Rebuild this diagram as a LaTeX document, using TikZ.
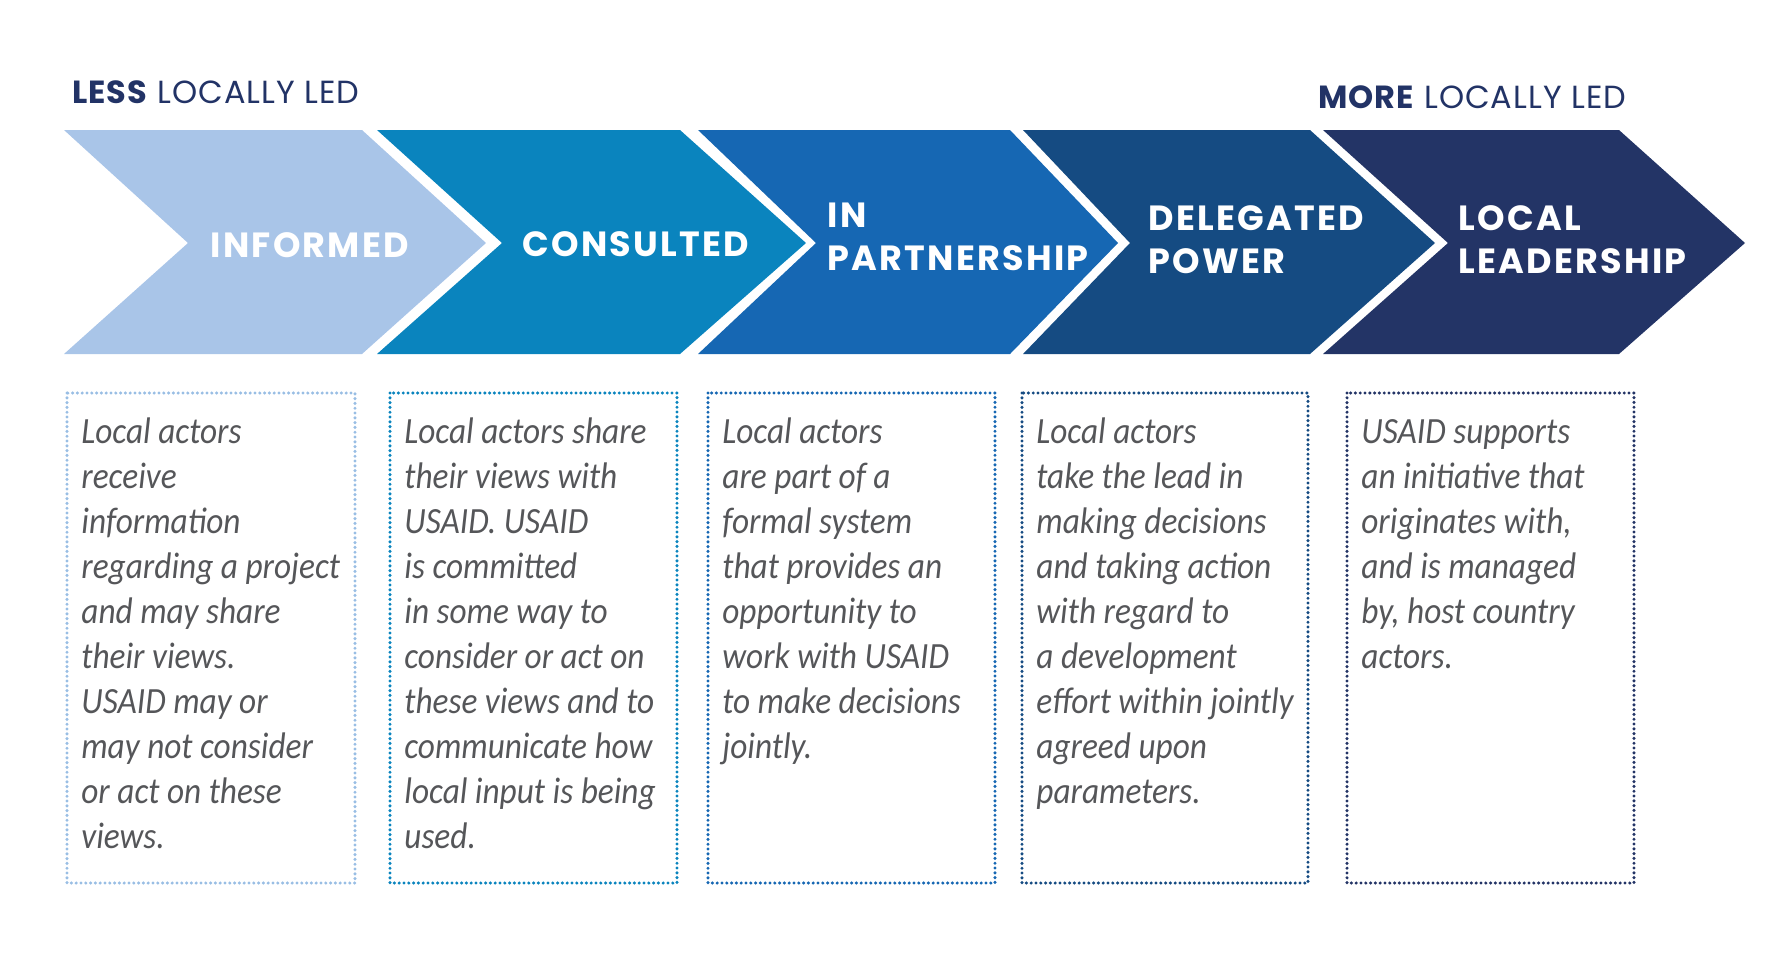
\documentclass[tikz,border=0pt]{standalone}
\usepackage{fontspec}
\usepackage{tikz}
\newfontfamily\bodyfont{Carlito}[FakeStretch=0.9]
\newfontfamily\headfont{Poppins}[LetterSpace=6.5]
\newfontfamily\labelfont{Poppins}[LetterSpace=3]
\definecolor{chevA}{HTML}{A9C5E8}
\definecolor{chevB}{HTML}{0A84BE}
\definecolor{chevC}{HTML}{1667B3}
\definecolor{chevD}{HTML}{154B82}
\definecolor{chevE}{HTML}{233466}
\definecolor{navy}{HTML}{223366}
\definecolor{bodygrey}{HTML}{555659}
\def\chevron[#1](#2:#3:#4:#5){\fill[#1] (#2,130) -- (#4,130) -- (#5,243) -- (#4,354) -- (#2,354) -- (#3,243) -- cycle;}
\tikzset{
  endlabel/.style={anchor=base west, inner sep=0pt, text=navy, font=\labelfont\fontsize{16pt}{19pt}\selectfont},
  stage/.style={anchor=base west, inner sep=0pt, align=left, text=white, font=\headfont\bfseries\fontsize{17.5pt}{21.5pt}\selectfont},
  dotbox/.style={draw=#1, line width=1.7pt, line cap=round, dash pattern=on 0pt off 2.4pt},
  desc/.style={anchor=base west, inner sep=0pt, align=left, text=bodygrey, font=\bodyfont\itshape\fontsize{18.5pt}{22.5pt}\selectfont}
}
\begin{document}
\begin{tikzpicture}[x=0.5pt, y=-0.5pt]
			%%%%% START %%%%%
			\useasboundingbox (0, 0) rectangle (1778, 971);
			
			\node[endlabel] (less) at (72, 103) {\textbf{LESS} LOCALLY LED};
			\node[endlabel] (more) at (1318, 108) {\textbf{MORE} LOCALLY LED};
			
			\chevron[fill=chevA](64:188:362:486);
			\chevron[fill=chevB](377:502:680:806);
			\chevron[fill=chevC](698:816:1010:1118);
			\chevron[fill=chevD](1023:1130:1310:1435);
			\chevron[fill=chevE](1323:1448:1619:1745);
			
			% two-line labels sit on the baseline of their last line
			\node[stage] (informed) at (210, 257) {INFORMED};
			\node[stage] (consulted) at (522, 256) {CONSULTED};
			\node[stage] (partner) at (827, 270) {IN\\PARTNERSHIP};
			\node[stage] (delegated) at (1148, 273) {DELEGATED\\POWER};
			\node[stage] (leader) at (1458, 273) {LOCAL\\LEADERSHIP};
			
			\draw[dotbox=chevA!90!chevB] (67, 393) rectangle (355, 883);
			\draw[dotbox=chevB] (390, 393) rectangle (677, 883);
			\draw[dotbox=chevC] (708, 393) rectangle (995, 883);
			\draw[dotbox=chevD] (1022, 393) rectangle (1308, 883);
			\draw[dotbox=chevE] (1347, 393) rectangle (1634, 883);
			
			\node[desc] (informedtext) at (81, 848) {Local actors\\receive\\information\\regarding a project\\and may share\\their views.\\USAID may or\\may not consider\\or act on these\\views.};
			\node[desc] (consultedtext) at (404, 848) {Local actors share\\their views with\\USAID. USAID\\is committed\\in some way to\\consider or act on\\these views and to\\communicate how\\local input is being\\used.};
			\node[desc] (partnertext) at (722, 758) {Local actors\\are part of a\\formal system\\that provides an\\opportunity to\\work with USAID\\to make decisions\\jointly.};
			\node[desc] (delegatedtext) at (1036, 803) {Local actors\\take the lead in\\making decisions\\and taking action\\with regard to\\a development\\effort within jointly\\agreed upon\\parameters.};
			\node[desc] (leadertext) at (1361, 668) {USAID supports\\an initiative that\\originates with,\\and is managed\\by, host country\\actors.};
			%%%%% END %%%%%
		\end{tikzpicture}
\end{document}
